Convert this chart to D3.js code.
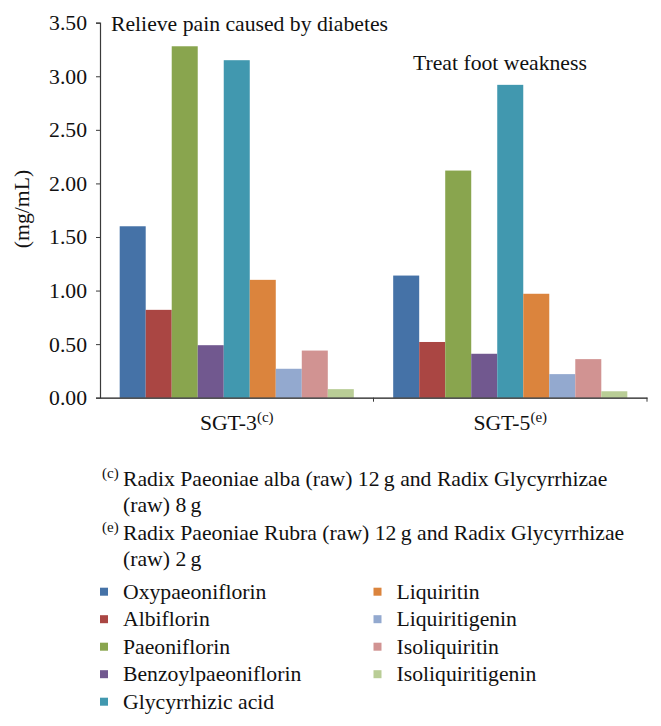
<!DOCTYPE html>
<html>
<head>
<meta charset="utf-8">
<script src="https://cdn.jsdelivr.net/npm/d3@7"></script>
<style>
  html, body { margin: 0; padding: 0; background: #fff; }
  svg { display: block; font-family: "Liberation Serif", "Times New Roman", serif; }
</style>
</head>
<body>
<svg id="chart" width="661" height="726"></svg>
<script>
const categories = ["SGT-3", "SGT-5"];
const categorySup = ["(c)", "(e)"];
const series = ["Oxypaeoniflorin", "Albiflorin", "Paeoniflorin", "Benzoylpaeoniflorin",
  "Glycyrrhizic acid", "Liquiritin", "Liquiritigenin", "Isoliquiritin", "Isoliquiritigenin"];
const sgt3Values = [1.60, 0.82, 3.28, 0.49, 3.15, 1.10, 0.27, 0.44, 0.08];
const sgt5Values = [1.14, 0.52, 2.12, 0.41, 2.92, 0.97, 0.22, 0.36, 0.06];
const colors = ["#4572A7", "#AA4643", "#89A54E", "#71588F", "#4198AF",
  "#DB843D", "#93A9CF", "#D19392", "#B9CD96"];
const yTicks = [0, 0.5, 1.0, 1.5, 2.0, 2.5, 3.0, 3.5];
const yLabel = "(mg/mL)";
const annotations = ["Relieve pain caused by diabetes", "Treat foot weakness"];
const footnotes = [
  { sup: "(c)", lines: ["Radix Paeoniae alba (raw) 12\u2009g and Radix Glycyrrhizae", "(raw) 8\u2009g"] },
  { sup: "(e)", lines: ["Radix Paeoniae Rubra (raw) 12\u2009g and Radix Glycyrrhizae", "(raw) 2\u2009g"] }
];

const valuesByCategory = [sgt3Values, sgt5Values];
const data = categories.map((c, i) => ({
  category: c,
  values: series.map((s, j) => ({ series: s, value: valuesByCategory[i][j] }))
}));

const svg = d3.select("#chart");
const FS = 21.7;
const plotLeft = 100, plotRight = 647, plotTop = 22.7, plotBottom = 397.7;

const x0 = d3.scaleBand().domain(categories).range([plotLeft, plotRight]).padding(0);
const bw = x0.bandwidth();
const gap = bw * 0.072;
const x1 = d3.scaleBand().domain(series).range([gap, bw - gap]).padding(0);
const y = d3.scaleLinear().domain([0, 3.5]).range([plotBottom, plotTop]);
const color = d3.scaleOrdinal().domain(series).range(colors);

// bars
const groups = svg.append("g").selectAll("g").data(data).join("g")
  .attr("transform", d => `translate(${x0(d.category)},0)`);
groups.selectAll("rect").data(d => d.values).join("rect")
  .attr("x", d => x1(d.series))
  .attr("width", x1.bandwidth())
  .attr("y", d => y(d.value))
  .attr("height", d => y(0) - y(d.value))
  .attr("fill", d => color(d.series));

// y axis
const yAxis = d3.axisLeft(y).tickValues(yTicks).tickFormat(d3.format(".2f")).tickSize(4).tickPadding(9);
const gy = svg.append("g").attr("transform", `translate(${plotLeft},0)`).call(yAxis);
gy.select(".domain").attr("stroke", "#3a3a3a").attr("stroke-width", 1.2);
gy.selectAll(".tick line").attr("stroke", "#3a3a3a");
gy.selectAll(".tick text").attr("font-size", FS).attr("font-family", "Liberation Serif").attr("fill", "#111");

// x axis
const xAxis = d3.axisBottom(x0).tickValues([]).tickSizeOuter(0);
const gx = svg.append("g").attr("transform", `translate(0,${plotBottom})`).call(xAxis);
gx.select(".domain").attr("stroke", "#1a1a1a").attr("stroke-width", 1.3);
const bounds = categories.map(c => x0(c)).concat([x0(categories[categories.length - 1]) + bw]).slice(1);
gx.selectAll(".btick").data(bounds).join("line")
  .attr("x1", d => d).attr("x2", d => d).attr("y1", 0).attr("y2", 4)
  .attr("stroke", "#3a3a3a");

// category labels with superscripts
categories.forEach((c, i) => {
  const t = svg.append("text")
    .attr("x", x0(c) + bw / 2).attr("y", 430)
    .attr("text-anchor", "middle").attr("font-size", FS).attr("fill", "#111");
  t.append("tspan").text(c);
  t.append("tspan").attr("font-size", 15).attr("dy", -8).text(categorySup[i]);
});

// y label
svg.append("text")
  .attr("transform", `translate(29,209) rotate(-90)`)
  .attr("text-anchor", "middle").attr("font-size", FS).attr("fill", "#111")
  .text(yLabel);

// annotations
svg.append("text").attr("x", 111).attr("y", 31).attr("font-size", FS).attr("fill", "#111").text(annotations[0]);
svg.append("text").attr("x", 413).attr("y", 70).attr("font-size", FS).attr("fill", "#111").text(annotations[1]);

// footnotes
const fnBase = [486, 512, 540, 566];
footnotes.forEach((f, i) => {
  svg.append("text").attr("x", 102).attr("y", fnBase[i * 2] - 8).attr("font-size", 15).attr("fill", "#111").text(f.sup);
  f.lines.forEach((ln, k) => {
    svg.append("text").attr("x", 123).attr("y", fnBase[i * 2 + k]).attr("font-size", FS).attr("fill", "#111").text(ln);
  });
});

// legend
const legendRows = 5;
const legend = svg.append("g").selectAll("g").data(series).join("g")
  .attr("transform", (d, i) => {
    const col = Math.floor(i / legendRows), row = i % legendRows;
    return `translate(${col === 0 ? 100 : 373.5},${591.7 + row * 27.5})`;
  });
legend.append("rect").attr("x", 0).attr("y", -4).attr("width", 8).attr("height", 8)
  .attr("fill", d => color(d));
legend.append("text").attr("x", 23).attr("y", 7).attr("font-size", FS).attr("fill", "#111").text(d => d);
</script>
</body>
</html>
